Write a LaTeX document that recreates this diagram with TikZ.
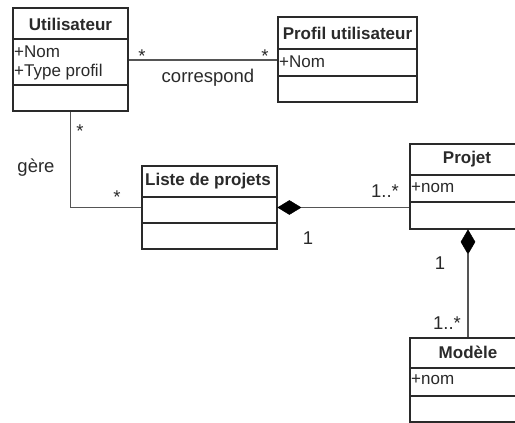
\documentclass[tikz,border=0pt]{standalone}
\usepackage{fontspec}
\setmainfont{Liberation Sans}
\usetikzlibrary{calc}
\definecolor{ink}{HTML}{2A2A2A}
\definecolor{edge}{HTML}{555555}
\begin{document}
\begin{tikzpicture}[x=1pt,y=-1pt,
  font=\fontsize{17pt}{20pt}\selectfont,
  classbox/.style={draw=ink,line width=1.8pt,inner sep=0pt,fill=white},
  divider/.style={draw=ink,line width=1.6pt},
  title/.style={font=\fontsize{17pt}{20pt}\selectfont\bfseries,text=ink,inner sep=0pt},
  attr/.style={anchor=west,text=ink,inner sep=1pt},
  lbl/.style={text=ink,inner sep=0pt,font=\fontsize{18.5pt}{21pt}\selectfont},
  conn/.style={draw=edge,line width=1.4pt},
  diam/.style={fill=black,draw=black,line width=0.5pt}]
\useasboundingbox (0,0) rectangle (515,423);
\clip (0,0) rectangle (515,423);
% Utilisateur
\node[classbox,minimum width=115,minimum height=103] (util) at (70.5,59.5) {};
\draw[divider] (13,39) -- (128,39) (13,85) -- (128,85);
\node[title] (utilT) at (70.5,24) {Utilisateur};
\node[attr] (utilA1) at (13,52) {+Nom};
\node[attr] (utilA2) at (13,72) {+Type profil};
% Profil utilisateur
\node[classbox,minimum width=139,minimum height=85] (prof) at (347.5,59.5) {};
\draw[divider] (278,49) -- (417,49) (278,76) -- (417,76);
\node[title] (profT) at (347.5,33) {Profil utilisateur};
\node[attr] (profA1) at (278,62) {+Nom};
% Liste de projets
\node[classbox,minimum width=135,minimum height=83] (liste) at (209.5,207.5) {};
\draw[divider] (142,197) -- (277,197) (142,223) -- (277,223);
\node[title] (listeT) at (208,181) {Liste de projets};
% Projet
\node[classbox,minimum width=116,minimum height=85] (proj) at (468,186.5) {};
\draw[divider] (410,175) -- (526,175) (410,202) -- (526,202);
\node[title] (projT) at (467,159) {Projet};
\node[attr] (projA1) at (410,188) {+nom};
% Modele
\node[classbox,minimum width=116,minimum height=84] (mod) at (468,380) {};
\draw[divider] (410,368) -- (526,368) (410,396) -- (526,396);
\node[title] (modT) at (468,352) {Modèle};
\node[attr] (modA1) at (410,380) {+nom};
% diamonds
\coordinate (d1tip) at ($(liste.east)+(23,0)$);
\fill[diam] (liste.east) -- ++(11.5,-7) -- (d1tip) -- ++(-11.5,7) -- cycle;
\coordinate (d2tip) at ($(proj.south)+(0,24)$);
\fill[diam] (proj.south) -- ++(7,12) -- (d2tip) -- ++(-7,-12) -- cycle;
% connectors
\draw[conn] (util.east |- 0,60) -- (prof.west |- 0,60);
\draw[conn] (util.south) |- (liste.west);
\draw[conn] (d1tip) -- (proj.west |- d1tip);
\draw[conn] (d2tip) -- (mod.north);
% labels
\node[lbl] (m1) at (142,56) {*};
\node[lbl] (m2) at (265,56) {*};
\node[lbl] (corr) at (208,78) {correspond};
\node[lbl] (m3) at (80,131) {*};
\node[lbl] (gere) at (36,168) {gère};
\node[lbl] (m4) at (117,197) {*};
\node[lbl] (m5) at (385,191) {1..*};
\node[lbl] (m6) at (308,238) {1};
\node[lbl] (m7) at (440,263) {1};
\node[lbl] (m8) at (447,323) {1..*};
\end{tikzpicture}
\end{document}
